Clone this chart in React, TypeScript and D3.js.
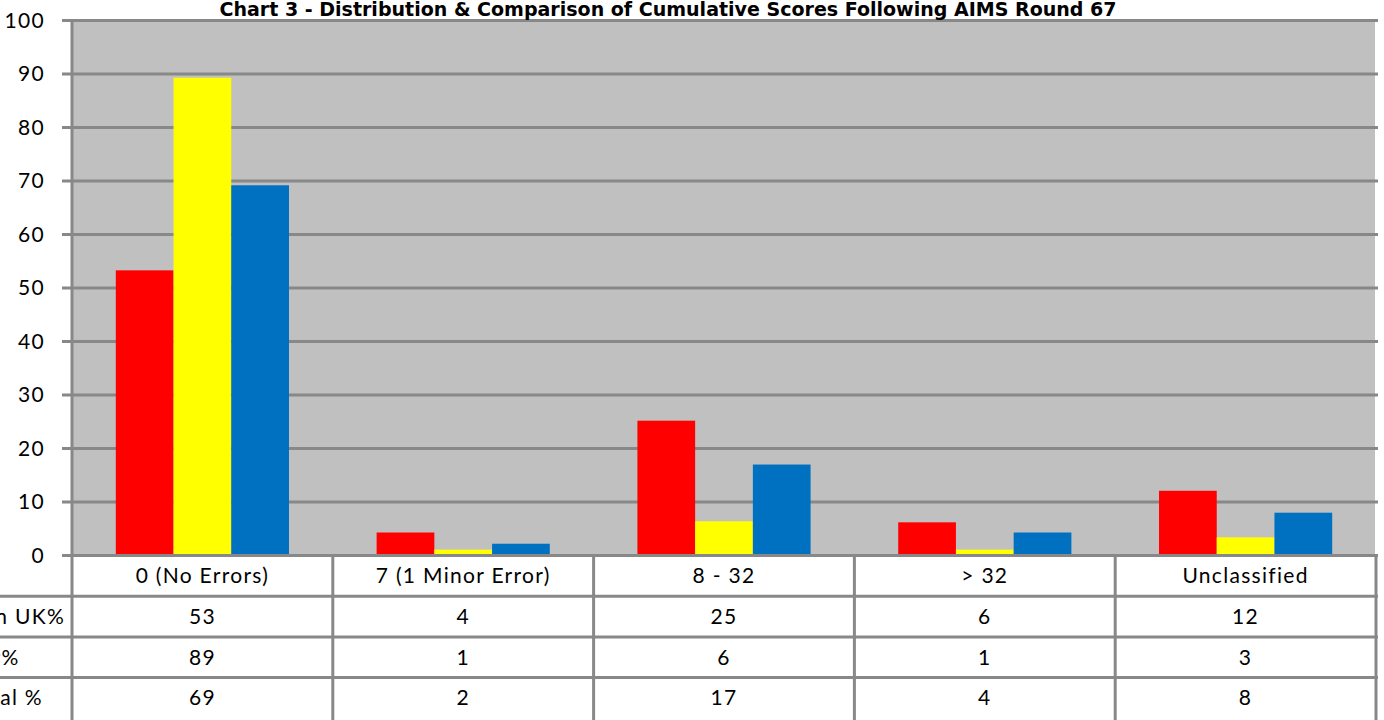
import React, { useEffect, useRef } from 'react';
import * as d3 from 'd3';

const categories = ['0 (No Errors)', '7 (1 Minor Error)', '8 - 32', '> 32', 'Unclassified'];
const seriesNames = ['Entrants in UK%', 'Other%', 'Sum Total %'];
const ukValues = [53.3, 4.3, 25.2, 6.2, 12.1];
const nonUkValues = [89.3, 1.1, 6.4, 1.1, 3.4];
const totalValues = [69.2, 2.2, 17.0, 4.3, 8.0];
const yTicks = [0, 10, 20, 30, 40, 50, 60, 70, 80, 90, 100];
const colors = ['#FF0000', '#FFFF00', '#0070C0'];

const W = 1384;
const H = 720;
const FONT = 'Lato, "Open Sans", sans-serif';

const App: React.FC = () => {
  const svgRef = useRef<SVGSVGElement>(null);

  useEffect(() => {
    if (!svgRef.current) return;
    const svg = d3.select(svgRef.current);
    svg.selectAll('*').remove();

    const series = [ukValues, nonUkValues, totalValues];
    const left = 72;
    const right = 1376;
    const top = 20.5;
    const zeroY = 555.5;
    const rowH = 40.7;
    const gridColor = '#888888';

    const y = d3.scaleLinear().domain([0, 100]).range([zeroY, top]);
    const x0 = d3.scaleBand<string>().domain(categories).range([left, right]).padding(0);
    const gap = x0.bandwidth() * 0.336;
    const x1 = d3.scaleBand<number>()
      .domain(d3.range(series.length))
      .range([gap / 2, x0.bandwidth() - gap / 2])
      .padding(0);

    const label = (sel: d3.Selection<SVGTextElement, any, any, any>) =>
      sel.style('font-family', FONT).style('font-size', '21px')
        .style('letter-spacing', '1.3px').attr('fill', '#000');

    // fond du graphique
    svg.append('rect')
      .attr('x', left).attr('y', top)
      .attr('width', right - left - 1).attr('height', zeroY - top)
      .attr('fill', '#C0C0C0');

    // grille + graduations
    svg.append('g').selectAll('line').data(yTicks).join('line')
      .attr('x1', 62).attr('x2', 1378)
      .attr('y1', d => y(d)).attr('y2', d => y(d))
      .attr('stroke', gridColor).attr('stroke-width', 3);

    svg.append('g').selectAll('text').data(yTicks).join('text')
      .attr('x', 45).attr('y', d => y(d))
      .attr('dy', '0.35em')
      .attr('text-anchor', 'end')
      .call(label)
      .text(d => d);

    // barres
    categories.forEach((c, i) => {
      series.forEach((vals, s) => {
        svg.append('rect')
          .attr('x', (x0(c) as number) + (x1(s) as number))
          .attr('y', y(vals[i]))
          .attr('width', x1.bandwidth())
          .attr('height', zeroY - 1.5 - y(vals[i]))
          .attr('fill', colors[s]);
      });
    });

    // titre
    svg.append('text')
      .attr('x', 668).attr('y', 16)
      .attr('text-anchor', 'middle')
      .attr('textLength', 897).attr('lengthAdjust', 'spacingAndGlyphs')
      .style('font-family', '"DejaVu Sans", sans-serif')
      .style('font-size', '20px').style('font-weight', 'bold')
      .text('Chart 3 - Distribution & Comparison of Cumulative Scores Following AIMS Round 67');

    // tableau de données
    const tableTop = zeroY;
    const rowYs = [0, 1, 2, 3].map(r => tableTop + r * rowH);
    const table = svg.append('g');
    table.append('rect')
      .attr('x', left).attr('y', tableTop + 1.5)
      .attr('width', right - left).attr('height', H - tableTop)
      .attr('fill', '#fff');

    table.selectAll('line.h').data(rowYs.slice(1)).join('line')
      .attr('class', 'h')
      .attr('x1', 0).attr('x2', right + 2)
      .attr('y1', d => d).attr('y2', d => d)
      .attr('stroke', gridColor).attr('stroke-width', 3);

    const vxs = categories.map(c => x0(c) as number).concat([right]);
    table.selectAll('line.v').data(vxs).join('line')
      .attr('class', 'v')
      .attr('x1', d => d).attr('x2', d => d)
      .attr('y1', (d, i) => (i === 0 ? top - 1.5 : tableTop)).attr('y2', H)
      .attr('stroke', gridColor).attr('stroke-width', 3);

    table.selectAll('text.cat').data(categories).join('text')
      .attr('class', 'cat')
      .attr('x', d => (x0(d) as number) + x0.bandwidth() / 2)
      .attr('y', tableTop + rowH / 2)
      .attr('dy', '0.35em')
      .attr('text-anchor', 'middle')
      .call(label)
      .text(d => d);

    series.forEach((vals, s) => {
      const cy = rowYs[s + 1] + rowH / 2;
      // libellés de ligne centrés, coupés par le bord gauche
      table.append('text')
        .attr('x', -20).attr('y', cy).attr('dy', '0.35em')
        .attr('text-anchor', 'middle')
        .call(label)
        .text(seriesNames[s]);
      table.selectAll(`text.v${s}`).data(categories).join('text')
        .attr('class', `v${s}`)
        .attr('x', d => (x0(d) as number) + x0.bandwidth() / 2)
        .attr('y', cy).attr('dy', '0.35em')
        .attr('text-anchor', 'middle')
        .call(label)
        .text((d, i) => Math.round(vals[i]));
    });
  }, []);

  return (
    <div style={{ position: 'fixed', left: 0, top: 0 }}>
      <svg ref={svgRef} width={W} height={H} style={{ display: 'block', background: '#fff' }} />
    </div>
  );
};

export default App;
